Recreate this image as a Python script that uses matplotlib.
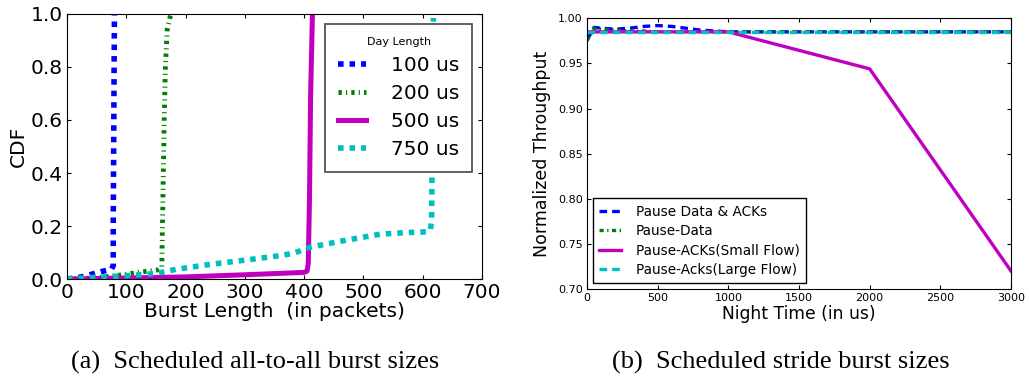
import matplotlib
matplotlib.use("Agg")
import matplotlib.pyplot as plt
from matplotlib.ticker import FormatStrFormatter

# classic matplotlib colours
BLUE, GREEN, MAGENTA, CYAN = "#0000ff", "#008000", "#bf00bf", "#00bfbf"

# (a) burst length CDF per day length
day_labels = ["100 us", "200 us", "500 us", "750 us"]

burst_100 = [0, 25, 58, 75, 78, 78, 79, 80]
cdf_100 = [0.0, 0.008, 0.028, 0.037, 0.05, 0.2, 0.6, 1.0]

burst_200 = [0, 50, 90, 120, 155, 160, 161, 164, 166, 169, 175]
cdf_200 = [0.0, 0.005, 0.015, 0.025, 0.035, 0.045, 0.2, 0.6, 0.8, 0.94, 1.0]

burst_500 = [0, 100, 200, 300, 400, 405, 407, 409, 411, 414]
cdf_500 = [0.0, 0.004, 0.008, 0.016, 0.025, 0.03, 0.06, 0.3, 0.7, 1.0]

burst_750 = [0, 44, 100, 151, 185, 241, 303, 359, 382, 410, 472, 528, 570,
             607, 613, 615, 616, 618]
cdf_750 = [0.0, 0.006, 0.012, 0.021, 0.037, 0.055, 0.072, 0.088, 0.097,
           0.12, 0.147, 0.169, 0.175, 0.178, 0.185, 0.22, 0.45, 0.985]

# (b) normalized throughput vs night time
night_labels = ["Pause Data & ACKs", "Pause-Data",
                "Pause-ACKs(Small Flow)", "Pause-Acks(Large Flow)"]
night_time = [0, 50, 100, 200, 300, 400, 500, 600, 700, 800, 900, 1000,
              2000, 3000]
tp_data_acks = [0.976, 0.990, 0.989, 0.988, 0.989, 0.991, 0.992, 0.991,
                0.989, 0.987, 0.986, 0.985, 0.985, 0.985]
tp_data = [0.975, 0.989, 0.988, 0.987, 0.986, 0.986, 0.985, 0.985, 0.985,
           0.985, 0.985, 0.985, 0.985, 0.985]
tp_acks_small = [0.985, 0.985, 0.985, 0.985, 0.985, 0.985, 0.985, 0.985,
                 0.985, 0.985, 0.985, 0.985, 0.944, 0.720]
tp_acks_large = [0.985, 0.985, 0.985, 0.985, 0.985, 0.985, 0.985, 0.985,
                 0.985, 0.985, 0.985, 0.985, 0.985, 0.985]

plt.rcParams["font.family"] = "DejaVu Sans"
plt.rcParams["lines.scale_dashes"] = False

fig = plt.figure(figsize=(10.29, 3.77), dpi=100)

# ---- left panel
ax1 = fig.add_axes([0.0651, 0.2599, 0.4033, 0.703])
ax1.plot(burst_100, cdf_100, color=BLUE, lw=4, dashes=(4, 4.3),
         label=day_labels[0])
ax1.plot(burst_200, cdf_200, color=GREEN, lw=3.5, dashes=(2.4, 3, 0.8, 3),
         label=day_labels[1])
ax1.plot(burst_500, cdf_500, color=MAGENTA, lw=3.6, label=day_labels[2])
ax1.plot(burst_750, cdf_750, color=CYAN, lw=4, dashes=(4, 4.3),
         label=day_labels[3])
ax1.set_xlim(0, 700)
ax1.set_ylim(0, 1.0)
ax1.set_xticks(range(0, 701, 100))
ax1.set_yticks([0, 0.2, 0.4, 0.6, 0.8, 1.0])
ax1.yaxis.set_major_formatter(FormatStrFormatter("%.1f"))
ax1.tick_params(direction="in", top=True, right=True, length=3,
                labelsize=14.5, pad=3)
ax1.set_xlabel("Burst Length  (in packets)", fontsize=14.5, labelpad=0)
ax1.set_ylabel("CDF", fontsize=14.5, labelpad=2)
leg1 = ax1.legend(loc="upper right", bbox_to_anchor=(0.976, 0.962),
                  borderaxespad=0, title="Day Length", title_fontsize=8,
                  fontsize=14.5, handlelength=1.4, handletextpad=1.2,
                  borderpad=0.65, labelspacing=0.45, fancybox=False,
                  framealpha=1)
leg1.get_frame().set_edgecolor("#555555")
leg1.get_frame().set_linewidth(1.3)

# ---- right panel
ax2 = fig.add_axes([0.5705, 0.2334, 0.412, 0.718])
ax2.plot(night_time, tp_data_acks, color=BLUE, lw=2.4, dashes=(5.5, 3.6),
         label=night_labels[0])
ax2.plot(night_time, tp_data, color=GREEN, lw=2.4, dashes=(3, 2.5, 1, 2.5),
         label=night_labels[1])
ax2.plot(night_time, tp_acks_small, color=MAGENTA, lw=2.4,
         label=night_labels[2])
ax2.plot(night_time, tp_acks_large, color=CYAN, lw=2.4, dashes=(5.5, 3.6),
         label=night_labels[3])
ax2.set_xlim(0, 3000)
ax2.set_ylim(0.70, 1.00)
ax2.set_xticks(range(0, 3001, 500))
ax2.set_yticks([0.70, 0.75, 0.80, 0.85, 0.90, 0.95, 1.00])
ax2.yaxis.set_major_formatter(FormatStrFormatter("%.2f"))
ax2.tick_params(direction="in", top=True, right=True, length=3,
                labelsize=8, pad=3)
ax2.set_xlabel("Night Time (in us)", fontsize=12.3, labelpad=1)
ax2.set_ylabel("Normalized Throughput", fontsize=12.5, labelpad=5)
leg2 = ax2.legend(loc="lower left", bbox_to_anchor=(0.014, 0.022),
                  borderaxespad=0, fontsize=9.8, handlelength=1.6,
                  handletextpad=1.1, borderpad=0.45, labelspacing=0.4,
                  fancybox=False, framealpha=1)
leg2.get_frame().set_edgecolor("black")
leg2.get_frame().set_linewidth(1.0)

# sub-figure captions
fig.text(0.248, 1 - 362 / 377, "(a)  Scheduled all-to-all burst sizes",
         family="Liberation Serif", fontsize=19, ha="center", va="center")
fig.text(0.759, 1 - 362 / 377, "(b)  Scheduled stride burst sizes",
         family="Liberation Serif", fontsize=19, ha="center", va="center")

fig.savefig("out.png", dpi=100)
